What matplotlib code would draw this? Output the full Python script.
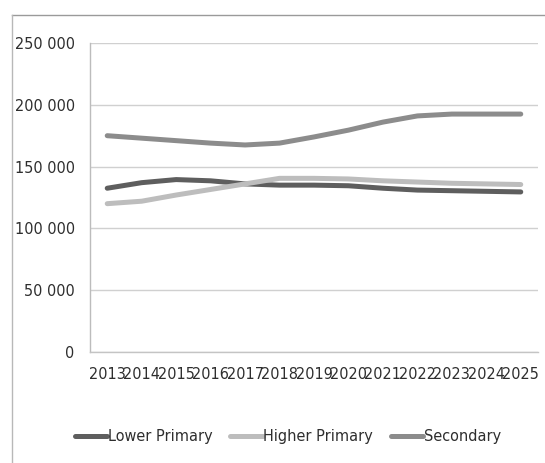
import matplotlib
matplotlib.use("Agg")
import matplotlib.pyplot as plt
from matplotlib import font_manager
from matplotlib.lines import Line2D
from matplotlib.ticker import FuncFormatter

years = ["2013", "2014", "2015", "2016", "2017", "2018", "2019",
         "2020", "2021", "2022", "2023", "2024", "2025"]
lower_primary = [132500, 137000, 139500, 138500, 136000, 135000, 135000,
                 134500, 132500, 131000, 130500, 130000, 129500]
higher_primary = [120000, 122000, 127000, 131500, 136000, 140500, 140500,
                  140000, 138500, 137500, 136500, 136000, 135500]
secondary = [175000, 173000, 171000, 169000, 167500, 169000, 174000,
             179500, 186000, 191000, 192500, 192500, 192500]
y_ticks = [0, 50000, 100000, 150000, 200000, 250000]

series = [
    ("Lower Primary", lower_primary, "#5e5e5e"),
    ("Higher Primary", higher_primary, "#bdbdbd"),
    ("Secondary", secondary, "#8c8c8c"),
]


def narrow_font():
    """Pick a narrow sans-serif face if one is installed."""
    entries = font_manager.fontManager.ttflist
    for e in entries:
        if e.name == "Liberation Sans Narrow" and e.style == "normal" and e.weight in (400, "normal", "regular"):
            return font_manager.FontProperties(fname=e.fname), 12
    for e in entries:
        f = e.fname.lower()
        if "condensed" in f and "dejavusans" in f.replace("-", "") and "bold" not in f and "oblique" not in f and "mono" not in f:
            return font_manager.FontProperties(fname=e.fname), 11.6
    for e in entries:
        f = e.fname.lower()
        if ("narrow" in f or "condensed" in f) and "bold" not in f and "italic" not in f and "oblique" not in f:
            return font_manager.FontProperties(fname=e.fname), 11.6
    return font_manager.FontProperties(family="Roboto"), 10.5


fp, fsize = narrow_font()
fp.set_size(fsize)

W, H = 545, 463
fig = plt.figure(figsize=(W / 100, H / 100), dpi=100)

# outer chart frame (top and left edges visible)
fig.add_artist(Line2D([12 / W, 1.0], [1 - 15 / H, 1 - 15 / H],
                      transform=fig.transFigure, color="#9a9a9a", lw=1.0))
fig.add_artist(Line2D([12 / W, 12 / W], [0.0, 1 - 15 / H],
                      transform=fig.transFigure, color="#b8b8b8", lw=1.0))

ax = fig.add_axes([90 / W, 1 - 352 / H, (538 - 90) / W, (352 - 43) / H])

x = list(range(len(years)))
for name, vals, color in series:
    ax.plot(x, vals, color=color, lw=3.6, solid_capstyle="round",
            solid_joinstyle="round", label=name, zorder=3)

ax.set_xlim(-0.5, len(years) - 0.5)
ax.set_ylim(0, 250000)
ax.set_yticks(y_ticks)
ax.yaxis.set_major_formatter(
    FuncFormatter(lambda v, p: f"{int(v):,}".replace(",", " ")))
ax.set_xticks(x)
ax.set_xticklabels(years)

ax.grid(axis="y", color="#d0d0d0", lw=1.0, zorder=0)
for s in ["top", "right"]:
    ax.spines[s].set_visible(False)
ax.spines["left"].set_color("#bcbcbc")
ax.spines["bottom"].set_color("#c4c4c4")
ax.spines["left"].set_linewidth(1.0)
ax.spines["bottom"].set_linewidth(1.0)
ax.tick_params(axis="both", length=0, colors="#2e2e2e")
ax.tick_params(axis="y", pad=11)
ax.tick_params(axis="x", pad=11)
for lab in ax.get_xticklabels() + ax.get_yticklabels():
    lab.set_fontproperties(fp)

handles = [Line2D([0], [0], color=c, lw=3.6, solid_capstyle="round")
           for _, _, c in series]
fig.legend(handles, [n for n, _, _ in series], loc="center",
           bbox_to_anchor=(288 / W, 1 - 437 / H), ncol=3, frameon=False,
           prop=fp, handlelength=2.0, handletextpad=0.05,
           columnspacing=1.1, labelcolor="#2e2e2e")

fig.savefig("out.png", dpi=100)
